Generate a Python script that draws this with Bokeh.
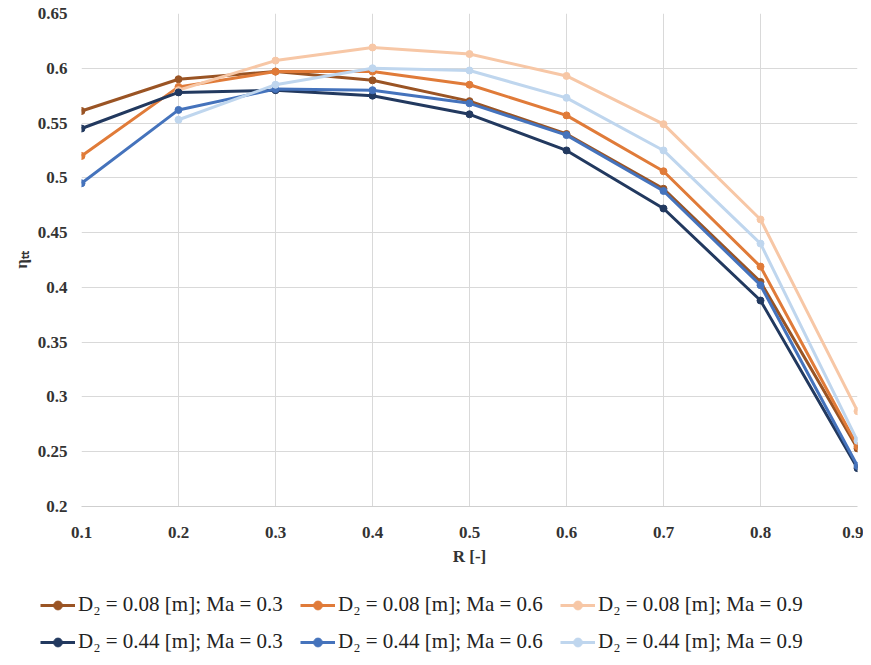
from bokeh.plotting import figure
from bokeh.models import FixedTicker, Legend, LegendItem, Range1d
from bokeh.embed import file_html
from bokeh.resources import INLINE

R_all = [0.1, 0.2, 0.3, 0.4, 0.5, 0.6, 0.7, 0.8, 0.9]
R_hi = [0.2, 0.3, 0.4, 0.5, 0.6, 0.7, 0.8, 0.9]

eta_008_03 = [0.561, 0.590, 0.597, 0.589, 0.570, 0.540, 0.490, 0.405, 0.253]
eta_008_06 = [0.520, 0.583, 0.597, 0.597, 0.585, 0.557, 0.506, 0.419, 0.255]
eta_008_09 = [0.580, 0.607, 0.619, 0.613, 0.593, 0.549, 0.462, 0.287]
eta_044_03 = [0.545, 0.578, 0.580, 0.575, 0.558, 0.525, 0.472, 0.388, 0.235]
eta_044_06 = [0.495, 0.562, 0.581, 0.580, 0.568, 0.539, 0.488, 0.402, 0.237]
eta_044_09 = [0.553, 0.585, 0.600, 0.598, 0.573, 0.525, 0.440, 0.260]

labels = [
    "D\u2082 = 0.08 [m]; Ma = 0.3",
    "D\u2082 = 0.08 [m]; Ma = 0.6",
    "D\u2082 = 0.08 [m]; Ma = 0.9",
    "D\u2082 = 0.44 [m]; Ma = 0.3",
    "D\u2082 = 0.44 [m]; Ma = 0.6",
    "D\u2082 = 0.44 [m]; Ma = 0.9",
]
colors = ["#9A5424", "#E07B39", "#F7C7A6", "#22395F", "#4573BC", "#BFD6EE"]

x_ticks = [0.1, 0.2, 0.3, 0.4, 0.5, 0.6, 0.7, 0.8, 0.9]
x_tick_labels = ["0.1", "0.2", "0.3", "0.4", "0.5", "0.6", "0.7", "0.8", "0.9"]
y_ticks = [0.2, 0.25, 0.3, 0.35, 0.4, 0.45, 0.5, 0.55, 0.6, 0.65]
y_tick_labels = ["0.2", "0.25", "0.3", "0.35", "0.4", "0.45", "0.5", "0.55", "0.6", "0.65"]

series = [
    (R_all, eta_008_03), (R_all, eta_008_06), (R_hi, eta_008_09),
    (R_all, eta_044_03), (R_all, eta_044_06), (R_hi, eta_044_09),
]

p = figure(width=863, height=570, output_backend="svg", toolbar_location=None,
           x_range=Range1d(0.1, 0.9), y_range=Range1d(0.2, 0.65),
           min_border_left=81, min_border_right=6, min_border_top=13, min_border_bottom=64)
p.outline_line_color = None
p.background_fill_color = "white"

for (xs, ys), c in zip(series, colors):
    p.line(xs, ys, line_color=c, line_width=3)
    p.scatter(xs, ys, size=7, fill_color=c, line_color=c)

serif = "Liberation Serif"
p.xaxis.ticker = FixedTicker(ticks=x_ticks)
p.yaxis.ticker = FixedTicker(ticks=y_ticks)
p.xaxis.major_label_overrides = {t: l for t, l in zip(x_ticks, x_tick_labels)}
p.yaxis.major_label_overrides = {t: l for t, l in zip(y_ticks, y_tick_labels)}
for ax in (p.xaxis[0], p.yaxis[0]):
    ax.major_label_text_font = serif
    ax.major_label_text_font_style = "bold"
    ax.major_label_text_font_size = "17px"
    ax.major_label_text_color = "#333333"
    ax.axis_label_text_font = serif
    ax.axis_label_text_font_style = "bold"
    ax.axis_label_text_font_size = "17px"
    ax.axis_label_text_color = "#333333"
    ax.major_tick_line_color = None
    ax.minor_tick_line_color = None
p.xaxis.axis_line_color = "#CFCFCF"
p.yaxis.axis_line_color = None
p.xaxis.major_label_standoff = 14
p.yaxis.major_label_standoff = 8
p.xaxis.axis_label = "R [-]"
p.yaxis.axis_label = "\u03b7\u209c\u209c"
p.xaxis.axis_label_standoff = 6
p.yaxis.axis_label_standoff = 4

p.xgrid.ticker = FixedTicker(ticks=x_ticks)
p.ygrid.ticker = FixedTicker(ticks=y_ticks)
p.grid.grid_line_color = "#D9D9D9"
p.grid.grid_line_width = 1

# Legend in its own strip below the chart (separate root, no frame alignment)
lg = figure(width=863, height=87, output_backend="svg", toolbar_location=None,
            x_range=Range1d(0, 1), y_range=Range1d(0, 1),
            x_axis_location=None, y_axis_location=None,
            min_border_left=0, min_border_right=0, min_border_top=0, min_border_bottom=0)
lg.outline_line_color = None
lg.grid.visible = False

items = []
for (xs, ys), c, lab in zip(series, colors, labels):
    r1 = lg.line(xs, ys, line_color=c, line_width=3, visible=False)
    r2 = lg.scatter(xs, ys, size=7, fill_color=c, line_color=c, visible=False)
    items.append(LegendItem(label=lab, renderers=[r1, r2]))

legend = Legend(items=items, orientation="horizontal", nrows=2, location=(40, 3),
                label_text_font=serif, label_text_font_size="21px",
                label_text_color="#222222",
                glyph_width=35, glyph_height=22, label_height=22, label_width=210,
                label_standoff=3, spacing=12, padding=0, margin=0,
                inactive_fill_alpha=0,
                border_line_color=None, background_fill_alpha=0)
lg.add_layout(legend, "center")

open("out.html", "w").write(file_html([p, lg], INLINE))
